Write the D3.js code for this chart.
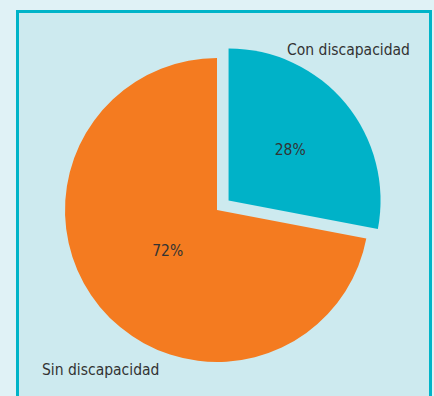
<!DOCTYPE html>
<html lang="es">
<head>
<meta charset="utf-8">
<title>Discapacidad</title>
<script src="https://cdn.jsdelivr.net/npm/d3@7"></script>
<style>
  body { margin: 0; background: #e0f2f6; }
  text { font-family: "DejaVu Sans Condensed", "DejaVu Sans", sans-serif; fill: #333; }
</style>
</head>
<body>
<div id="chart"></div>
<script>
const categories = ["Con discapacidad", "Sin discapacidad"];
const values = [28, 72];
const pctLabels = ["28%", "72%"];
const colors = ["#00b2c8", "#f47b20"];

const width = 434, height = 396;
const cx = 217, cy = 210, radius = 152;
const explode = [15, 0];
const labelRadius = [80, 64];

const svg = d3.select("#chart").append("svg")
  .attr("width", width)
  .attr("height", height);

// frame
svg.append("rect")
  .attr("x", 17.5).attr("y", 11.5)
  .attr("width", 413).attr("height", 400)
  .attr("fill", "#cdeaef")
  .attr("stroke", "#00b4c8")
  .attr("stroke-width", 3);

const pie = d3.pie().sort(null)(values);
const arc = d3.arc().innerRadius(0).outerRadius(radius);

const g = svg.append("g").attr("transform", `translate(${cx},${cy})`);

const slices = g.selectAll("g.slice")
  .data(pie)
  .enter().append("g")
  .attr("class", "slice")
  .attr("transform", (d, i) => {
    const a = (d.startAngle + d.endAngle) / 2;
    return `translate(${Math.sin(a) * explode[i]},${-Math.cos(a) * explode[i]})`;
  });

slices.append("path")
  .attr("d", arc)
  .attr("fill", (d, i) => colors[i]);

slices.append("text")
  .attr("transform", (d, i) => {
    const a = (d.startAngle + d.endAngle) / 2;
    return `translate(${Math.sin(a) * labelRadius[i]},${-Math.cos(a) * labelRadius[i]})`;
  })
  .attr("text-anchor", "middle")
  .attr("dy", "0.36em")
  .style("font-size", "15.5px")
  .text((d, i) => pctLabels[i]);

// category labels
svg.append("text")
  .attr("x", 287).attr("y", 55)
  .style("font-size", "15.5px")
  .text(categories[0]);

svg.append("text")
  .attr("x", 42).attr("y", 375)
  .style("font-size", "15.5px")
  .text(categories[1]);
</script>
</body>
</html>
